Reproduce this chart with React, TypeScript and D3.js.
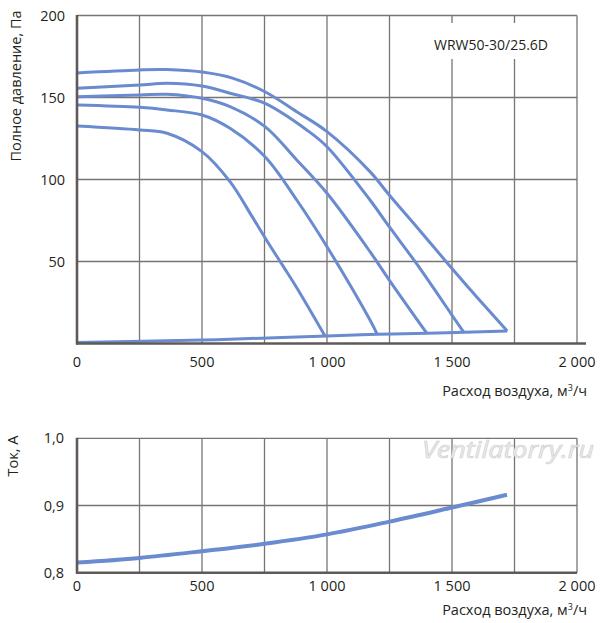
import React from "react";
import * as d3 from "d3";

// Flow ticks, m³/h
const flowTicks = [0, 500, 1000, 1500, 2000];
const flowGrid = [250, 500, 750, 1000, 1250, 1500, 1750, 2000];
const flowLabels = ["0", "500", "1 000", "1 500", "2 000"];

// Pressure ticks, Pa
const pressureTicks = [50, 100, 150, 200];
// Current ticks, A
const currentTicks = [0.8, 0.9, 1.0];
const currentLabels = ["0,8", "0,9", "1,0"];

// Fan curves (flow, pressure) for each speed step
const speed5: [number, number][] = [
  [0, 165], [250, 166.8], [360, 167], [500, 165.5], [625, 161.7], [752, 153.5],
  [879, 141.3], [1000, 129.2], [1172, 104.8], [1249, 90.5], [1359, 71], [1499, 45.9],
  [1599, 28.4], [1721, 7.6],
];
const speed4: [number, number][] = [
  [0, 155.6], [250, 157.6], [360, 158.7], [500, 157], [612, 152.6], [750, 146.5],
  [919, 130.2], [1000, 120], [1172, 87.5], [1249, 71.2], [1359, 48.5], [1499, 17.5],
  [1548, 6.6],
];
const speed3: [number, number][] = [
  [0, 150.5], [250, 151.5], [360, 152], [500, 149.5], [612, 144.4], [752, 132.2],
  [879, 111.9], [1000, 91.6], [1172, 56], [1249, 38.7], [1399, 6.3],
];
const speed2: [number, number][] = [
  [0, 145.4], [250, 144], [360, 142.4], [500, 139.3], [612, 131.2], [752, 113.9],
  [879, 87.5], [1000, 59], [1172, 14.3], [1201, 5.6],
];
const speed1: [number, number][] = [
  [0, 132.6], [250, 130.2], [360, 128.2], [500, 117], [612, 98.7], [700, 77.5],
  [752, 64.5], [825, 47], [879, 34], [992, 4.6],
];
// System (network) line
const systemLine: [number, number][] = [
  [0, 0.6], [500, 2.1], [612, 2.6], [1000, 4.6], [1201, 5.6], [1399, 6.3],
  [1548, 6.8], [1721, 7.6],
];
// Current vs flow
const currentCurve: [number, number][] = [
  [0, 0.815], [250, 0.822], [500, 0.832], [750, 0.843], [1000, 0.857],
  [1250, 0.876], [1500, 0.897], [1720, 0.916],
];

const fanCurves = [speed5, speed4, speed3, speed2, speed1];

const FONT = "'Open Sans', sans-serif";
const TEXT = "#231f20";
const GRID = "#777473";
const AXIS = "#5e5a58";
const BLUE = "#6a8bd0";

export default function App() {
  const width = 600;
  const height = 623;

  const x = d3.scaleLinear().domain([0, 2000]).range([77, 577]);
  const yTop = d3.scaleLinear().domain([0, 200]).range([343.5, 15.5]);
  const yBot = d3.scaleLinear().domain([0.8, 1.0]).range([572.7, 438.3]);

  const lineTop = d3
    .line<[number, number]>()
    .x((d) => x(d[0]))
    .y((d) => yTop(d[1]))
    .curve(d3.curveCatmullRom.alpha(0.5));

  const lineBot = d3
    .line<[number, number]>()
    .x((d) => x(d[0]))
    .y((d) => yBot(d[1]))
    .curve(d3.curveCatmullRom.alpha(0.5));

  return (
    <svg
      width={width}
      height={height}
      style={{ position: "absolute", left: 0, top: 0, background: "#fff" }}
      fontFamily={FONT}
    >
      {/* ---------- top panel: pressure ---------- */}
      <g>
        {pressureTicks.map((t) => (
          <line key={"ph" + t} x1={x(0)} x2={x(2000)} y1={yTop(t)} y2={yTop(t)} stroke={GRID} strokeWidth={1.3} />
        ))}
        {flowGrid.map((t) => (
          <line key={"pv" + t} x1={x(t)} x2={x(t)} y1={yTop(200)} y2={yTop(0)} stroke={GRID} strokeWidth={1.3} />
        ))}
        {/* label box masks the grid */}
        <rect x={428} y={23} width={136} height={36} fill="#fff" />
        <text x={434} y={49.5} fontSize={14} fill={TEXT}>
          WRW50-30/25.6D
        </text>

        {fanCurves.map((c, i) => (
          <path key={"fc" + i} d={lineTop(c) ?? ""} fill="none" stroke={BLUE} strokeWidth={3} strokeLinejoin="round" />
        ))}
        <path d={lineTop(systemLine) ?? ""} fill="none" stroke={BLUE} strokeWidth={3} />

        {/* axes */}
        <line x1={x(0)} x2={x(0)} y1={yTop(200) - 0.5} y2={yTop(0) + 1} stroke={AXIS} strokeWidth={2.6} />
        <line x1={x(0) - 1} x2={586} y1={yTop(0)} y2={yTop(0)} stroke={AXIS} strokeWidth={2.6} />

        {pressureTicks.map((t) => (
          <text key={"pl" + t} x={65} y={yTop(t)} dy="0.35em" textAnchor="end" fontSize={14.5} fill={TEXT}>
            {t}
          </text>
        ))}
        {flowTicks.map((t, i) => (
          <text key={"fl" + t} x={x(t)} y={366.5} textAnchor="middle" fontSize={14.5} fill={TEXT}>
            {flowLabels[i]}
          </text>
        ))}
        <text x={587} y={396} textAnchor="end" fontSize={14.5} fill={TEXT}>
          Расход воздуха, м<tspan fontSize={9} dy={-5}>3</tspan>
          <tspan dy={5}>/ч</tspan>
        </text>
        <text transform="translate(21,86) rotate(-90)" textAnchor="middle" fontSize={14.5} fill={TEXT}>
          Полное давление, Па
        </text>
      </g>

      {/* ---------- bottom panel: current ---------- */}
      <g>
        {currentTicks.map((t) => (
          <line key={"ch" + t} x1={x(0)} x2={x(2000)} y1={yBot(t)} y2={yBot(t)} stroke={GRID} strokeWidth={1.3} />
        ))}
        {flowGrid.map((t) => (
          <line key={"cv" + t} x1={x(t)} x2={x(t)} y1={yBot(1.0)} y2={yBot(0.8)} stroke={GRID} strokeWidth={1.3} />
        ))}

        <text
          x={422}
          y={458}
          fontSize={23}
          fontStyle="italic"
          fill="#ececec"
          stroke="#cfcfcf"
          strokeWidth={0.6}
          textLength={172}
          lengthAdjust="spacingAndGlyphs"
        >
          Ventilatorry.ru
        </text>

        <path d={lineBot(currentCurve) ?? ""} fill="none" stroke={BLUE} strokeWidth={4} />

        <line x1={x(0)} x2={x(0)} y1={yBot(1.0) - 0.5} y2={yBot(0.8) + 1} stroke={AXIS} strokeWidth={2.6} />
        <line x1={x(0) - 1} x2={x(2000)} y1={yBot(0.8)} y2={yBot(0.8)} stroke={AXIS} strokeWidth={2.6} />

        {currentTicks.map((t, i) => (
          <text key={"cl" + t} x={64} y={yBot(t)} dy="0.35em" textAnchor="end" fontSize={14.5} fill={TEXT}>
            {currentLabels[i]}
          </text>
        ))}
        {flowTicks.map((t, i) => (
          <text key={"bl" + t} x={x(t)} y={590.5} textAnchor="middle" fontSize={14.5} fill={TEXT}>
            {flowLabels[i]}
          </text>
        ))}
        <text x={587} y={615} textAnchor="end" fontSize={14.5} fill={TEXT}>
          Расход воздуха, м<tspan fontSize={9} dy={-5}>3</tspan>
          <tspan dy={5}>/ч</tspan>
        </text>
        <text transform="translate(18,456) rotate(-90)" textAnchor="middle" fontSize={14.5} fill={TEXT}>
          Ток, А
        </text>
      </g>
    </svg>
  );
}
